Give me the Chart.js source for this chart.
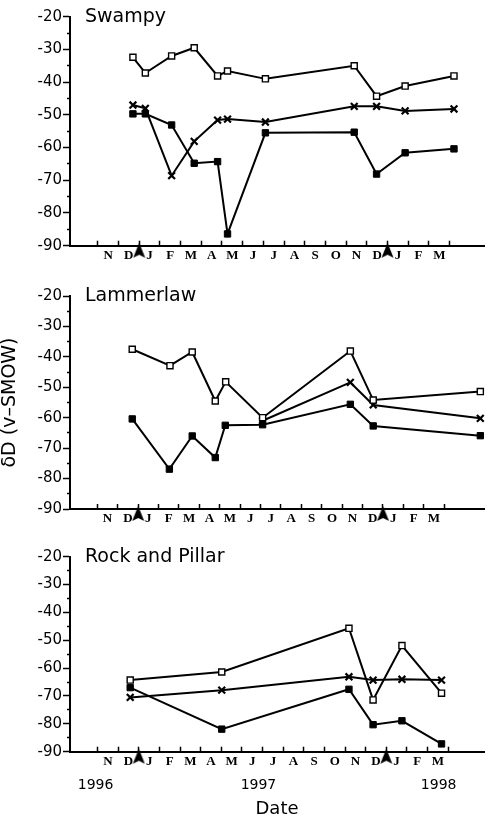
<!DOCTYPE html>
<html>
<head>
<meta charset="utf-8">
<script src="https://cdn.jsdelivr.net/npm/chart.js@4.4.0/dist/chart.umd.min.js"></script>
<style>
  html, body { margin: 0; padding: 0; background: #fff; }
  #wrap { position: relative; width: 491px; height: 820px; overflow: hidden; background: #fff; }
  canvas { position: absolute; left: 0; }
</style>
</head>
<body>
<div id="wrap">
  <canvas id="c1" width="491" height="275" style="top:0px;width:491px;height:275px"></canvas>
  <canvas id="c2" width="491" height="260" style="top:275px;width:491px;height:260px"></canvas>
  <canvas id="c3" width="491" height="285" style="top:535px;width:491px;height:285px"></canvas>
</div>
<script>
// x values are months counted from 1 January 1997
const MONTH_LETTERS = ['N','D','J','F','M','A','M','J','J','A','S','O','N','D','J','F','M'];
const MONTH_MIDS = [-1.5,-0.5,0.5,1.5,2.5,3.5,4.5,5.5,6.5,7.5,8.5,9.5,10.5,11.5,12.5,13.5,14.5];
const YEAR_LABELS = ['1996','1997','1998'];
const YEAR_LABEL_AT = [-2.1, 5.8, 14.54];
const ARROW_DATES = [0, 12];
const Y_TITLE = 'δD (v–SMOW)';
const X_TITLE = 'Date';
const PANEL_NAMES = ['Swampy', 'Lammerlaw', 'Rock and Pillar'];

// Swampy
const swampyDates  = [-0.30, 0.30, 1.57, 2.66, 3.79, 4.27, 6.10, 10.39, 11.47, 12.85, 15.21];
const swampyOpen   = [-32.4, -37.2, -32.0, -29.5, -38.1, -36.6, -39.0, -35.0, -44.3, -41.2, -38.1];
const swampyCross  = [-47.0, -48.0, -68.6, -58.1, -51.6, -51.3, -52.2, -47.4, -47.4, -48.8, -48.2];
const swampyFilled = [-49.7, -49.7, -53.1, -64.8, -64.3, -86.4, -55.5, -55.3, -68.1, -61.6, -60.4];

// Lammerlaw
const lammerOpenDates   = [-0.29, 1.56, 2.65, 3.78, 4.29, 6.10, 10.40, 11.52, 16.77];
const lammerOpen        = [-37.5, -42.9, -38.4, -54.5, -48.2, -60.0, -38.1, -54.2, -51.4];
const lammerCrossDates  = [6.10, 10.40, 11.52, 16.77];
const lammerCross       = [-61.0, -48.4, -55.8, -60.2];
const lammerFilledDates = [-0.29, 1.53, 2.65, 3.78, 4.27, 6.10, 10.40, 11.52, 16.77];
const lammerFilled      = [-60.4, -76.9, -66.0, -73.1, -62.5, -62.3, -55.6, -62.7, -65.9];

// Rock and Pillar
const rockDates  = [-0.42, 4.02, 10.19, 11.36, 12.76, 14.68];
const rockOpen   = [-64.3, -61.4, -45.7, -71.4, -51.9, -69.0];
const rockCross  = [-70.5, -67.9, -63.1, -64.3, -64.0, -64.3];
const rockFilled = [-67.0, -81.9, -67.6, -80.3, -78.9, -87.2];

const Y_MIN = -90, Y_MAX = -20, Y_STEP = 5;
const X_MIN = -3.34;

function pts(dates, vals) { return dates.map((d, i) => ({ x: d, y: vals[i] })); }

function makeArrowGlyph() {
  const c = document.createElement('canvas');
  c.width = 13; c.height = 30;
  const g = c.getContext('2d');
  g.fillStyle = '#000';
  g.beginPath();
  g.moveTo(6.5, 12);
  g.lineTo(12.5, 27);
  g.lineTo(6.5, 24);
  g.lineTo(0.5, 27);
  g.closePath();
  g.fill();
  return c;
}
const ARROW = makeArrowGlyph();

const panelLabel = {
  id: 'panelLabel',
  afterDraw(chart, args, opts) {
    const { ctx, chartArea } = chart;
    ctx.save();
    ctx.font = '19px "DejaVu Sans"';
    ctx.fillStyle = '#000';
    ctx.textAlign = 'left';
    ctx.textBaseline = 'middle';
    ctx.fillText(opts.text, chartArea.left + 15, chartArea.top + 0.5);
    ctx.restore();
  }
};

function lineSet(data, kind) {
  const base = {
    data, borderColor: '#000', borderWidth: 2, tension: 0, fill: false, clip: false,
    pointBorderColor: '#000'
  };
  if (kind === 'open') return Object.assign(base, { pointStyle: 'rect', pointRadius: 4.3, pointBackgroundColor: '#fff', pointBorderWidth: 1.4 });
  if (kind === 'cross') return Object.assign(base, { pointStyle: 'crossRot', pointRadius: 4.8, pointBackgroundColor: '#000', pointBorderWidth: 2.2 });
  return Object.assign(base, { pointStyle: 'rect', pointRadius: 4.5, pointBackgroundColor: '#000', pointBorderWidth: 1 });
}

function arrowSet() {
  return {
    data: ARROW_DATES.map(d => ({ x: d, y: Y_MIN })),
    showLine: false, pointStyle: ARROW, pointRadius: 6, clip: false
  };
}

function buildChart(id, name, datasets, o) {
  const scales = {
    x: {
      type: 'linear', position: 'bottom', min: X_MIN, max: o.xMax,
      afterBuildTicks: s => { s.ticks = MONTH_MIDS.map(v => ({ value: v })); },
      ticks: {
        callback: (v, i) => MONTH_LETTERS[i],
        autoSkip: false, maxRotation: 0, color: '#000', padding: 7,
        font: { family: 'Liberation Serif', size: 13, weight: 'bold' }
      },
      grid: { offset: true, drawOnChartArea: false, drawTicks: true, tickLength: -5, tickWidth: 1.5, tickColor: '#000' },
      border: { display: true, color: '#000', width: 2 },
      afterFit: s => { s.height = o.monthAxisH; }
    },
    y: {
      type: 'linear', position: 'left', min: Y_MIN, max: Y_MAX,
      ticks: {
        stepSize: Y_STEP, autoSkip: false, color: '#000', padding: 1,
        callback: v => (v % 10 === 0 ? String(v) : ''),
        font: { family: 'DejaVu Sans', size: 15 }
      },
      grid: {
        drawOnChartArea: false, drawTicks: true, tickLength: 7, tickWidth: 1.5, tickColor: '#000',
        tickBorderDash: [7, 100],
        tickBorderDashOffset: c => (c.tick && c.tick.value % 10 === 0) ? 0 : -4
      },
      border: { display: true, color: '#000', width: 2 },
      title: {
        display: !!o.yTitle, text: Y_TITLE, color: '#000',
        font: { family: 'DejaVu Sans', size: 19, lineHeight: 1 },
        padding: { top: 1, bottom: 0 }
      },
      afterFit: s => { s.width = 70; }
    }
  };
  if (o.years) {
    scales.x2 = {
      type: 'linear', position: 'bottom', min: X_MIN, max: o.xMax,
      afterBuildTicks: s => { s.ticks = YEAR_LABEL_AT.map(v => ({ value: v })); },
      ticks: {
        callback: (v, i) => YEAR_LABELS[i],
        autoSkip: false, maxRotation: 0, color: '#000', padding: 3,
        font: { family: 'DejaVu Sans', size: 14 }
      },
      grid: { display: false, drawTicks: false, drawOnChartArea: false },
      border: { display: false },
      title: {
        display: true, text: X_TITLE, color: '#000',
        font: { family: 'DejaVu Sans', size: 18 },
        padding: { top: 0, bottom: 0 }
      },
      afterFit: s => { s.height = o.yearAxisH; }
    };
  }
  return new Chart(document.getElementById(id), {
    type: 'line',
    data: { datasets },
    options: {
      responsive: false, animation: false, devicePixelRatio: 1, events: [],
      layout: { padding: { top: o.padTop, bottom: 0, left: 0, right: o.padRight } },
      plugins: { legend: { display: false }, tooltip: { enabled: false }, panelLabel: { text: name } },
      scales
    },
    plugins: [panelLabel]
  });
}

buildChart('c1', PANEL_NAMES[0], [
  lineSet(pts(swampyDates, swampyOpen), 'open'),
  lineSet(pts(swampyDates, swampyCross), 'cross'),
  lineSet(pts(swampyDates, swampyFilled), 'filled'),
  arrowSet()
], { xMax: 16.66, padTop: 16.7, padRight: 6, monthAxisH: 29.3 });

buildChart('c2', PANEL_NAMES[1], [
  lineSet(pts(lammerOpenDates, lammerOpen), 'open'),
  lineSet(pts(lammerCrossDates, lammerCross), 'cross'),
  lineSet(pts(lammerFilledDates, lammerFilled), 'filled'),
  arrowSet()
], { xMax: 16.95, padTop: 21, padRight: 0, monthAxisH: 26, yTitle: true });

buildChart('c3', PANEL_NAMES[2], [
  lineSet(pts(rockDates, rockOpen), 'open'),
  lineSet(pts(rockDates, rockCross), 'cross'),
  lineSet(pts(rockDates, rockFilled), 'filled'),
  arrowSet()
], { xMax: 16.74, padTop: 21.7, padRight: 4.3, monthAxisH: 22, years: true, yearAxisH: 46.3 });
</script>
</body>
</html>
